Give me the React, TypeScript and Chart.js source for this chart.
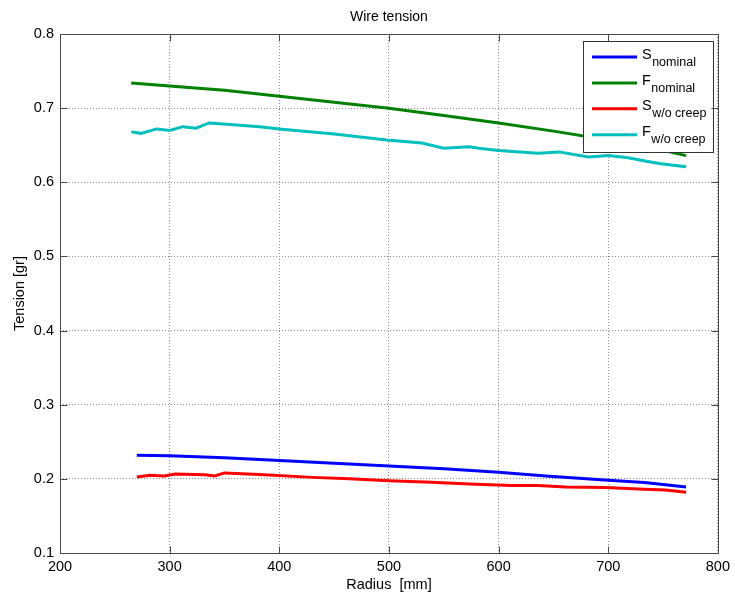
import React, { useEffect, useRef } from "react";
import { Chart, registerables } from "chart.js";

Chart.register(...registerables);

const FONT = '"Liberation Sans", Arial, Helvetica, sans-serif';

// ---- data ----
const xTickValues = [200, 300, 400, 500, 600, 700, 800];
const yTickValues = [0.1, 0.2, 0.3, 0.4, 0.5, 0.6, 0.7, 0.8];

const radiusSNominal = [270, 300, 350, 382, 450, 500, 550, 600, 643, 700, 733, 771];
const tensionSNominal = [0.232, 0.231, 0.2285, 0.226, 0.221, 0.2175, 0.2135, 0.209, 0.204, 0.198, 0.195, 0.189];

const radiusFNominal = [265, 300, 350, 400, 450, 500, 550, 600, 650, 700, 750, 771];
const tensionFNominal = [0.734, 0.73, 0.724, 0.716, 0.708, 0.7, 0.69, 0.68, 0.669, 0.657, 0.643, 0.636];

const radiusSNoCreep = [270, 282, 295, 305, 332, 341, 350, 382, 430, 464, 500, 539, 573, 612, 636, 661, 697, 733, 752, 771];
const tensionSNoCreep = [0.2025, 0.205, 0.204, 0.2065, 0.2055, 0.204, 0.208, 0.206, 0.202, 0.2, 0.1975, 0.1955, 0.193, 0.191, 0.191, 0.189, 0.1885, 0.186, 0.185, 0.182];

const radiusFNoCreep = [265, 274, 288, 300, 312, 324, 336, 355, 382, 400, 450, 498, 530, 550, 573, 582, 600, 636, 655, 682, 700, 718, 736, 748, 771];
const tensionFNoCreep = [0.668, 0.666, 0.672, 0.67, 0.675, 0.673, 0.68, 0.678, 0.675, 0.672, 0.665, 0.657, 0.653, 0.646, 0.648, 0.646, 0.643, 0.639, 0.641, 0.634, 0.636, 0.633, 0.628, 0.625, 0.621];

const seriesMain = ["S", "F", "S", "F"];
const seriesSub = ["nominal", "nominal", "w/o creep", "w/o creep"];

const chartTitle = "Wire tension";
const xAxisTitle = "Radius  [mm]";
const yAxisTitle = "Tension [gr]";

// ---- styles ----
const seriesColors = ["#0000ff", "#008000", "#ff0000", "#00bfbf"];

function toPoints(xs: number[], ys: number[]) {
  return xs.map((x, i) => ({ x, y: ys[i] }));
}

const decorPlugin = {
  id: "decor",
  afterDatasetsDraw(chart: any) {
    const ctx = chart.ctx as CanvasRenderingContext2D;
    // legend box
    const bx = 583, by = 41, bw = 130, bh = 111;
    ctx.save();
    ctx.fillStyle = "#ffffff";
    ctx.fillRect(bx, by, bw, bh);
    ctx.strokeStyle = "#333333";
    ctx.lineWidth = 1;
    ctx.strokeRect(bx + 0.5, by + 0.5, bw, bh);
    for (let i = 0; i < seriesMain.length; i++) {
      const ly = 57 + 25.9 * i;
      ctx.strokeStyle = seriesColors[i];
      ctx.lineWidth = 3;
      ctx.beginPath();
      ctx.moveTo(592, ly);
      ctx.lineTo(637, ly);
      ctx.stroke();
      ctx.fillStyle = "#000000";
      ctx.textAlign = "left";
      ctx.textBaseline = "alphabetic";
      ctx.font = `14.5px ${FONT}`;
      ctx.fillText(seriesMain[i], 642, ly + 1.6);
      const w = ctx.measureText(seriesMain[i]).width;
      ctx.font = `12.5px ${FONT}`;
      ctx.fillText(seriesSub[i], 642 + w + 0.5, ly + 8.6);
    }
    ctx.restore();
  },
  afterDraw(chart: any) {
    const ctx = chart.ctx as CanvasRenderingContext2D;
    const a = chart.chartArea;
    const xs = chart.scales.x;
    const ys = chart.scales.y;
    ctx.save();
    ctx.strokeStyle = "#4a4a4a";
    ctx.lineWidth = 1;
    const L = Math.round(a.left) + 0.5;
    const R = Math.round(a.right) + 0.5;
    const T = Math.round(a.top) + 0.5;
    const B = Math.round(a.bottom) + 0.5;
    ctx.strokeRect(L, T, R - L, B - T);
    const tl = 7;
    ctx.beginPath();
    for (const v of xTickValues) {
      const px = Math.round(xs.getPixelForValue(v)) + 0.5;
      ctx.moveTo(px, B);
      ctx.lineTo(px, B - tl);
      ctx.moveTo(px, T);
      ctx.lineTo(px, T + tl);
    }
    for (const v of yTickValues) {
      const py = Math.round(ys.getPixelForValue(v)) + 0.5;
      ctx.moveTo(L, py);
      ctx.lineTo(L + tl, py);
      ctx.moveTo(R, py);
      ctx.lineTo(R - tl, py);
    }
    ctx.stroke();

    // titles
    ctx.fillStyle = "#000000";
    ctx.textAlign = "center";
    ctx.textBaseline = "middle";
    ctx.font = `14px ${FONT}`;
    ctx.fillText(chartTitle, (a.left + a.right) / 2, 17);
    ctx.font = `14.5px ${FONT}`;
    ctx.fillText(xAxisTitle, (a.left + a.right) / 2, 585);
    ctx.save();
    ctx.translate(20, (a.top + a.bottom) / 2);
    ctx.rotate(-Math.PI / 2);
    ctx.fillText(yAxisTitle, 0, 0);
    ctx.restore();
    ctx.restore();
  },
};

export default function App() {
  const canvasRef = useRef<HTMLCanvasElement | null>(null);

  useEffect(() => {
    const canvas = canvasRef.current;
    if (!canvas) return;
    const datasets = [
      toPoints(radiusSNominal, tensionSNominal),
      toPoints(radiusFNominal, tensionFNominal),
      toPoints(radiusSNoCreep, tensionSNoCreep),
      toPoints(radiusFNoCreep, tensionFNoCreep),
    ].map((data, i) => ({
      label: seriesMain[i] + " " + seriesSub[i],
      data,
      borderColor: seriesColors[i],
      backgroundColor: seriesColors[i],
      borderWidth: 3,
      pointRadius: 0,
      tension: 0,
      fill: false,
      order: seriesMain.length - i,
    }));

    const chart = new Chart(canvas, {
      type: "line",
      data: { datasets },
      options: {
        responsive: false,
        animation: false,
        parsing: false as any,
        layout: { padding: { left: 0, right: 15, top: 34, bottom: 0 } },
        plugins: {
          legend: { display: false },
          title: { display: false },
          tooltip: { enabled: false },
        },
        scales: {
          x: {
            type: "linear",
            min: 200,
            max: 800,
            afterBuildTicks: (s: any) => {
              s.ticks = xTickValues.map((v) => ({ value: v }));
            },
            afterFit: (s: any) => {
              s.height = 47;
            },
            grid: { color: "#8a8a8a", lineWidth: 1, drawTicks: false },
            border: { display: false, dash: [1, 2] },
            ticks: {
              padding: 5,
              color: "#000000",
              maxRotation: 0,
              autoSkip: false,
              font: { family: FONT, size: 14.5 },
              callback: (v: any) => String(v),
            },
          },
          y: {
            type: "linear",
            min: 0.1,
            max: 0.8,
            afterBuildTicks: (s: any) => {
              s.ticks = yTickValues.map((v) => ({ value: v }));
            },
            afterFit: (s: any) => {
              s.width = 60;
            },
            grid: { color: "#8a8a8a", lineWidth: 1, drawTicks: false },
            border: { display: false, dash: [1, 2] },
            ticks: {
              padding: 6,
              color: "#000000",
              autoSkip: false,
              font: { family: FONT, size: 14.5 },
              callback: (v: any) => Number(v).toFixed(1),
            },
          },
        },
      } as any,
      plugins: [decorPlugin],
    });
    return () => chart.destroy();
  }, []);

  return (
    <div style={{ position: "absolute", left: 0, top: 0, width: 735, height: 600, background: "#ffffff" }}>
      <canvas ref={canvasRef} width={735} height={600} style={{ display: "block", width: 735, height: 600 }} />
    </div>
  );
}
